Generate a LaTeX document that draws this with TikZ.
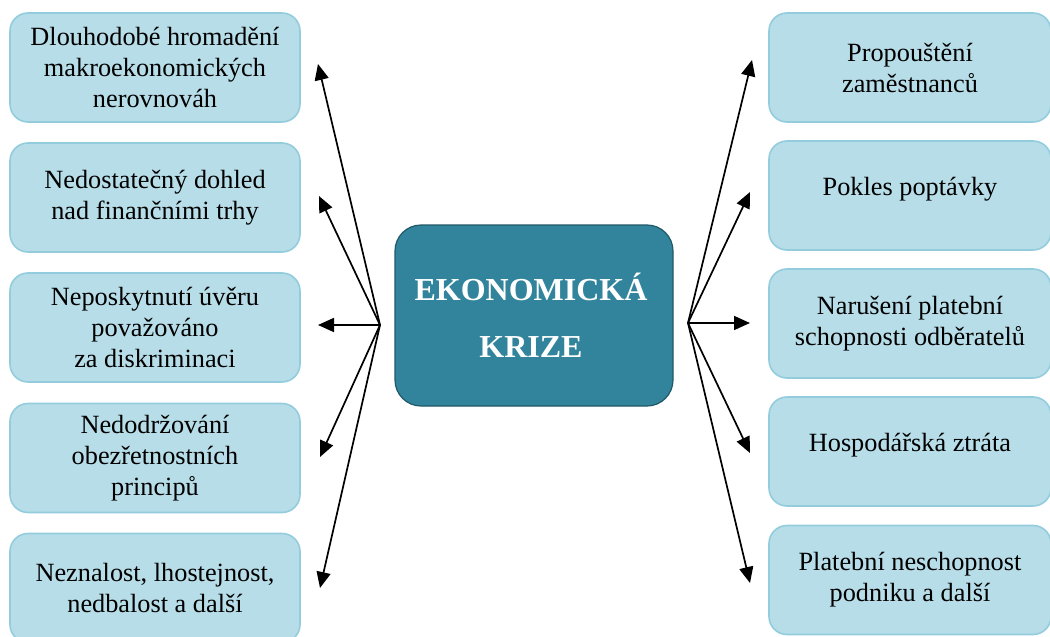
\documentclass[tikz,border=0pt]{standalone}
\usepackage{fontspec}
\setmainfont{Liberation Serif}
\usetikzlibrary{arrows.meta}
\definecolor{boxfill}{HTML}{B7DDE8}
\definecolor{boxline}{HTML}{93CDDD}
\definecolor{hubfill}{HTML}{31849B}
\definecolor{hubline}{HTML}{215968}
\begin{document}
\begin{tikzpicture}[x=1pt,y=-1pt,
  cause/.style={draw=boxline, line width=1.6pt, fill=boxfill, rounded corners=18pt,
    minimum width=290pt, minimum height=109pt, align=center, inner sep=0pt,
    font=\fontsize{26.3}{31}\selectfont},
  effect/.style={cause, minimum width=282pt},
  core/.style={draw=hubline, line width=1.2pt, fill=hubfill, rounded corners=26pt,
    minimum width=278pt, minimum height=181pt, align=center, text=white,
    font=\fontsize{32}{57}\selectfont\bfseries},
  arr/.style={-{Triangle[length=16pt,width=14pt]}, line width=1.7pt, black}]
\useasboundingbox (0,0) rectangle (1050,637);
\fill[white] (0,0) rectangle (1050,637);

% left boxes
\node[cause] (L1) at (155,67.5) {Dlouhodobé hromadění\\makroekonomických\\nerovnováh};
\node[cause] (L2) at (155,197.5) {Nedostatečný dohled\\nad finančními trhy};
\node[cause] (L3) at (155,327.5) {Neposkytnutí úvěru\\považováno\\za diskriminaci};
\node[cause] (L4) at (155,458) {Nedodržování\\obezřetnostních\\principů};
\node[cause] (L5) at (155,588) {Neznalost, lhostejnost,\\nedbalost a další};

% right boxes
\node[effect] (R1) at (910,67.5) {Propouštění\\zaměstnanců};
\node[effect, text depth=18pt] (R2) at (910,195.5) {Pokles poptávky};
\node[effect] (R3) at (910,323.5) {Narušení platební\\schopnosti odběratelů};
\node[effect, text depth=18pt] (R4) at (910,451.5) {Hospodářská ztráta};
\node[effect] (R5) at (910,580) {Platební neschopnost\\podniku a další};

% centre
\node[core] (K) at (534,315.5) {\hspace*{-6pt}EKONOMICKÁ\\\hspace*{-6pt}KRIZE};

% hubs and arrow ends
\coordinate (hl) at (380,325);
\coordinate (hr) at (688,323);
\coordinate (tl1) at (318,64);
\coordinate (tl2) at (319,196);
\coordinate (tl3) at (318,325);
\coordinate (tl4) at (320,457);
\coordinate (tl5) at (320,588);
\coordinate (tr1) at (752,60);
\coordinate (tr2) at (750,192);
\coordinate (tr3) at (750,323);
\coordinate (tr4) at (750,453);
\coordinate (tr5) at (750,583);

\foreach \i in {1,...,5} {
  \draw[arr] (hl) -- (tl\i);
  \draw[arr] (hr) -- (tr\i);
}
\end{tikzpicture}
\end{document}
